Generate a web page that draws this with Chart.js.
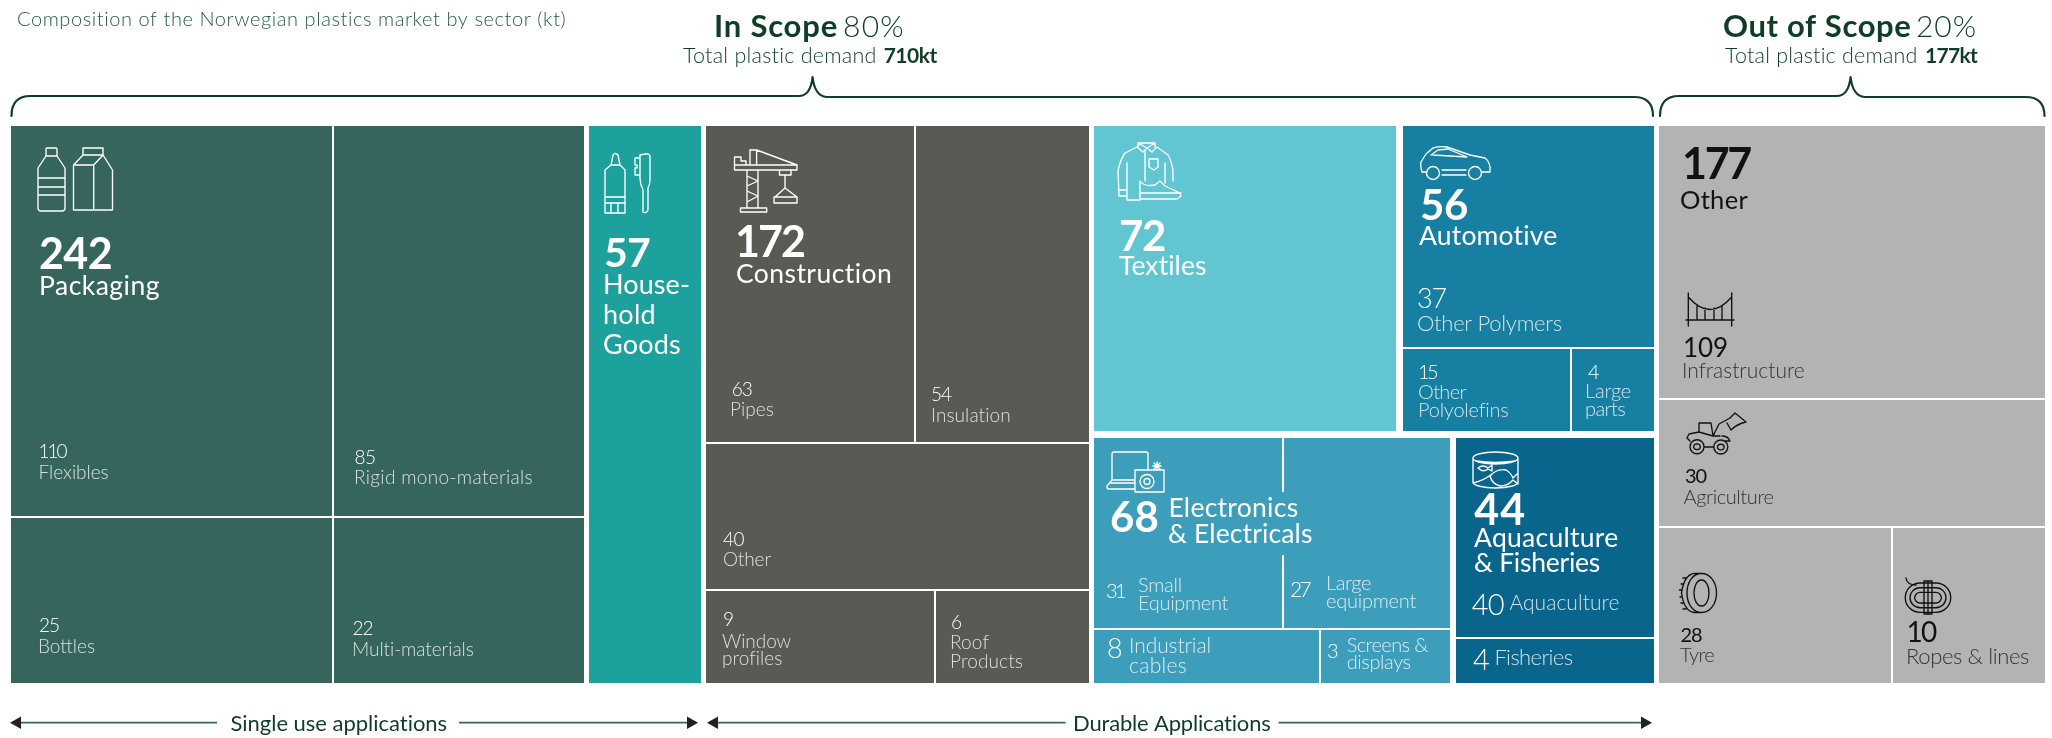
<!DOCTYPE html>
<html><head><meta charset="utf-8">
<style>html,body{margin:0;padding:0;background:#fff}canvas{display:block}</style>
<script src="https://cdn.jsdelivr.net/npm/chart.js@4"></script>
</head><body><canvas id="c" width="2052" height="738"></canvas>
<script>
// ---- data (kt) ----
const sectorNames=["Packaging","Household Goods","Construction","Textiles","Automotive","Electronics & Electricals","Aquaculture & Fisheries","Other"];
const sectorValues=[242,57,172,72,56,68,44,177];
const packagingParts=["Flexibles","Rigid mono-materials","Bottles","Multi-materials"];
const packagingValues=[110,85,25,22];
const constructionParts=["Pipes","Insulation","Other","Window profiles","Roof Products"];
const constructionValues=[63,54,40,9,6];
const automotiveParts=["Other Polymers","Other Polyolefins","Large parts"];
const automotiveValues=[37,15,4];
const electronicsParts=["Small Equipment","Large equipment","Industrial cables","Screens & displays"];
const electronicsValues=[31,27,8,3];
const aquacultureParts=["Aquaculture","Fisheries"];
const aquacultureValues=[40,4];
const otherParts=["Infrastructure","Agriculture","Tyre","Ropes & lines"];
const otherValues=[109,30,28,10];

// ---- treemap layout: relative spans of each split, measured on the picture ----
const COL={pack:'#36655E',house:'#1DA19C',cons:'#5A5A54',text:'#61C5D2',auto:'#177FA1',elec:'#3D9EBC',aqua:'#0A658C',out:'#B3B3B3'};
const leaf=(span,label,value,color)=>({span,label,value,color});
const H=(span,gap,kids)=>({span,gap,dir:'h',kids});
const V=(span,gap,kids)=>({span,gap,dir:'v',kids});
const tree=H(1,5.4,[
 H(573,2,[
  V(322,2,[leaf(390,packagingParts[0],packagingValues[0],COL.pack),leaf(165,packagingParts[2],packagingValues[2],COL.pack)]),
  V(250,2,[leaf(390,packagingParts[1],packagingValues[1],COL.pack),leaf(165,packagingParts[3],packagingValues[3],COL.pack)])]),
 leaf(111.6,sectorNames[1],sectorValues[1],COL.house),
 V(382.6,2,[
  H(316.5,2,[leaf(208,constructionParts[0],constructionValues[0],COL.cons),leaf(173,constructionParts[1],constructionValues[1],COL.cons)]),
  leaf(145,constructionParts[2],constructionValues[2],COL.cons),
  H(92,2,[leaf(228,constructionParts[3],constructionValues[3],COL.cons),leaf(153,constructionParts[4],constructionValues[4],COL.cons)])]),
 V(559.8,6.5,[
  H(305.5,6.5,[
   leaf(302,sectorNames[3],sectorValues[3],COL.text),
   V(251,2,[leaf(221.5,automotiveParts[0],automotiveValues[0],COL.auto),
    H(82,2,[leaf(167.4,automotiveParts[1],automotiveValues[1],COL.auto),leaf(81.5,automotiveParts[2],automotiveValues[2],COL.auto)])])]),
  H(245.5,5.4,[
   V(356,2,[H(190.5,2,[leaf(188,electronicsParts[0],electronicsValues[0],COL.elec),leaf(166,electronicsParts[1],electronicsValues[1],COL.elec)]),
    H(53,2,[leaf(225,electronicsParts[2],electronicsValues[2],COL.elec),leaf(129,electronicsParts[3],electronicsValues[3],COL.elec)])]),
   V(198,2,[leaf(199.5,aquacultureParts[0],aquacultureValues[0],COL.aqua),leaf(44.5,aquacultureParts[1],aquacultureValues[1],COL.aqua)])])]),
 V(385.9,2,[
  leaf(272.5,otherParts[0],otherValues[0],COL.out),
  leaf(126,otherParts[1],otherValues[1],COL.out),
  H(155,2,[leaf(231.5,otherParts[2],otherValues[2],COL.out),leaf(152,otherParts[3],otherValues[3],COL.out)])])
]);
const rects=[];
(function layout(n,x0,y0,x1,y1){
 if(!n.kids){rects.push({label:n.label,value:n.value,color:n.color,x0:Math.round(x0),x1:Math.round(x1),y0:Math.round(y0),y1:Math.round(y1)});return;}
 const horiz=n.dir==='h',len=(horiz?x1-x0:y1-y0)-n.gap*(n.kids.length-1);
 const sum=n.kids.reduce((a,k)=>a+k.span,0);let p=horiz?x0:y0;
 n.kids.forEach(k=>{const s=len*k.span/sum;
  horiz?layout(k,p,y0,p+s,y1):layout(k,x0,p,x1,p+s);p+=s+n.gap;});
})(tree,10.5,125.5,2045,683);

// ---- text ----
const W='#ffffff',SOFT='rgba(255,255,255,.8)',G='#0F3D26',D='#111111',DS='#333333';
const F='Lato, "Noto Sans", sans-serif';
const texts=[
 ["Composition of the Norwegian plastics market by sector (kt)",17,26,20,300,'#2A5A4C',550],
 ["In Scope",714,37,31,700,G,124],["80%",843,37,30,300,G,62],
 ["Total plastic demand",683,62.7,21.5,300,G,194],["710kt",883.7,62.7,21,700,G,53],
 ["Out of Scope",1723,37,31,700,G,188.5],["20%",1916,37,30,300,G,61],
 ["Total plastic demand",1725,62.7,21.5,300,G,193],["177kt",1925,62.7,21,700,G,52],
 ["Single use applications",230.5,730.7,22,400,G,217],
 ["Durable Applications",1073,730.7,22,400,G,198],
 // packaging
 [sectorValues[0],39,269,43,700,W,73],[sectorNames[0],39,294.7,26.5,400,W,121],
 [packagingValues[0],38.6,458,19,300,W,27],[packagingParts[0],38.6,479,19,300,SOFT,70],
 [packagingValues[1],354.5,463.7,19,300,W,21],[packagingParts[1],354,484,19,300,SOFT,179],
 [packagingValues[2],39,632,19,300,W,20],[packagingParts[2],38,653.3,19,300,SOFT,57],
 [packagingValues[3],352.6,635,19,300,W,20],[packagingParts[3],352,656,19,300,SOFT,122],
 // household
 [sectorValues[1],604,266.7,41,700,W,46],["House-",603,294,27,400,W,87],["hold",603,324,27,400,W,53],["Goods",603,354,27,400,W,78],
 // construction
 [sectorValues[2],735,257,43,700,W,69],[sectorNames[2],736,282.7,26.5,400,W,156.6],
 [constructionValues[0],731.7,395.7,19,300,W,20],[constructionParts[0],730,416,19,300,SOFT,44],
 [constructionValues[1],931,400.7,19,300,W,20],[constructionParts[1],931,421.7,19,300,SOFT,80],
 [constructionValues[2],723,546,19,300,W,21],[constructionParts[2],723,566,19,300,SOFT,48],
 [constructionValues[3],723,626,19,300,W],["Window",722,648,19,300,SOFT,69],["profiles",722,665,19,300,SOFT,60],
 [constructionValues[4],951,628.7,19,300,W],["Roof",950,649.3,19,300,SOFT,39],["Products",950,668.3,19,300,SOFT,73],
 // textiles
 [sectorValues[3],1119,250.7,42,700,W,46],[sectorNames[3],1119,275,26.5,400,W,88],
 // automotive
 [sectorValues[4],1420,220,42,700,W,48],[sectorNames[4],1419,245.3,26.5,400,W,139],
 [automotiveValues[0],1417,308,27,300,W,29],[automotiveParts[0],1417,330.7,22,300,SOFT,144.7],
 [automotiveValues[1],1418,379,20,300,W,18],["Other",1418,399.3,20,300,SOFT,48],["Polyolefins",1418,417,20,300,SOFT,90],
 [automotiveValues[2],1588,379,20,300,W],["Large",1585,398,20,300,SOFT,46],["parts",1585,416,20,300,SOFT,40],
 // electronics
 [sectorValues[5],1110,532,42,700,W,49],["Electronics",1168.4,517,26.5,400,W,130],["& Electricals",1168,543,26.5,400,W,144.6],
 [electronicsValues[0],1106,598.3,20,300,W,18],["Small",1138,591.7,20,300,SOFT,44],["Equipment",1138,610,20,300,SOFT,90],
 [electronicsValues[1],1290,596.7,21,300,W,19],["Large",1326,590,20,300,SOFT,45],["equipment",1326,608,20,300,SOFT,90],
 [electronicsValues[2],1107,658,27,300,W],["Industrial",1129,653.3,21,300,SOFT,82],["cables",1129,672.7,21,300,SOFT,58],
 [electronicsValues[3],1327,658,20,300,W],["Screens &",1346.7,652,20,300,SOFT,81],["displays",1346.7,669.3,20,300,SOFT,64],
 // aquaculture
 [sectorValues[6],1474.3,525,43,700,W,52],["Aquaculture",1474,546.7,26.5,400,W,144.5],["& Fisheries",1474,572,26.5,400,W,126],
 [aquacultureValues[0],1471.7,615,29,300,W,32],[aquacultureParts[0],1509.4,610,21,300,SOFT,110],
 [aquacultureValues[1],1473,670,29,300,W],[aquacultureParts[1],1494.4,664.7,22,300,SOFT,78],
 // other
 [sectorValues[7],1682,178.7,43,700,D,68],[sectorNames[7],1680,209,25.5,400,D,68],
 [otherValues[0],1683,357.3,26,400,D,45],[otherParts[0],1682,378.3,21,300,DS,122.7],
 [otherValues[1],1685,483.3,20,400,D,21],[otherParts[1],1683.5,504,20,300,DS,90],
 [otherValues[2],1680.5,641.7,20,400,D,21],[otherParts[2],1680,662.3,20,300,DS,34],
 [otherValues[3],1906.4,641.7,28,400,D,29],[otherParts[3],1906,664.3,22,300,DS,123]
];

// ---- icons (outline decorations) ----
const icons=[
 [W,"M46 156V149Q46 148 47 148H56Q57 148 57 149V156ZM46 156L38 168V208Q38 211 41 211H62Q65 211 65 208V168L57 156M38 178H65M38 187H65M38 195H65"],
 [W,"M83 155V148H103V155M73.5 165L83 155H103L112.5 170V210H73.5ZM73.5 165H93.7L103 155M93.7 165V210"],
 [W,"M611 165L613 155Q615 152 618 155L620 165ZM611 165L605 170V213H625V170L620 165M605 197H625M605 203H625M611 203V213M618 203V213"],
 [W,"M645 154Q649 153 650 156V180Q650 184 648 188V210Q646 214 643 212V190Q640 184 640 178V155ZM640 158H635V165H637V168H635V175H640"],
 [W,"M740.5 208H766.7V212H740.5ZM747 208V170M758 208V170M747 176L758 181M758 181L747 186M747 191L758 196M758 196L747 202M734.5 165H797V170H734.5ZM734.5 165V157H741V161H746V165M750 165V150H756.6L797 165M756.6 150V165M779.5 170H791V175H779.5ZM785 175V188M785 188L775 197H797ZM774 197H797V203H774Z"],
 [W,"M1138 147V143H1155V147M1137 147L1143 152L1147 148L1152 152L1157 147M1147 148L1138 143M1147 148L1155 143M1137 147L1125 153Q1120 160 1118 171L1119 196H1127V163M1119 190H1127M1127 190V200H1140M1157 147L1168 155Q1172 162 1173 171V181M1165 163V183M1145 151V181M1149 159H1158V167L1154 170L1149 167ZM1140 181V193M1140 181Q1144 187 1155 185L1160 181L1165 186L1180 193L1181 196L1177 199H1140V193H1181"],
 [W,"M1427 172H1422Q1420 165 1421 162Q1424 157 1426 154L1433 148Q1440 146 1447 147L1470 155L1485 158Q1489 161 1490 167V172H1482M1431 155L1438 150L1448 149L1467 157L1433 155M1442 170H1466M1442 175H1466M1439.5 173A6.5 6.5 0 1 1 1426.5 173A6.5 6.5 0 1 1 1439.5 173M1481.5 173A6.5 6.5 0 1 1 1468.5 173A6.5 6.5 0 1 1 1481.5 173"],
 [W,"M1112 480V454Q1112 452 1114 452H1146Q1148 452 1148 454V470M1112 480H1135M1107 486L1112 480M1107 486V488Q1107 489 1109 489H1135M1110 483H1135M1135 470H1164V492H1135ZM1147 474.5A7 7 0 1 1 1147 488.5A7 7 0 1 1 1147 474.5M1147 478.5A3 3 0 1 1 1147 484.5A3 3 0 1 1 1147 478.5M1157 469V462M1153 466L1161 466M1154 463L1160 469M1160 463L1154 469"],
 [W,"M1473 458A22.5 6 0 1 1 1518 458A22.5 6 0 1 1 1473 458M1473 458V482A22.5 6 0 0 0 1518 482V458M1473 483Q1485 480 1492 474M1476 461Q1495 464 1515 461M1490 476Q1497 468 1506 470Q1511 473 1513 478L1518 473V484L1513 480Q1508 486 1500 486Q1492 484 1490 476ZM1478 468Q1483 464 1488 468L1492 465V471L1488 469Q1483 473 1478 468Z"],
 [D,"M1688.3 293V326M1731.7 293V326M1686 320H1734M1688.3 297Q1710 322 1731.7 297M1697 306V320M1705 308V320M1714 308V320M1722 306V320"],
 [D,"M1697 439.7A7 7 0 1 1 1697 453.7A7 7 0 1 1 1697 439.7M1697 444A2.8 2.8 0 1 1 1697 449.5A2.8 2.8 0 1 1 1697 444M1720.8 440A7 7 0 1 1 1720.8 454A7 7 0 1 1 1720.8 440M1720.8 444.3A2.8 2.8 0 1 1 1720.8 449.8A2.8 2.8 0 1 1 1720.8 444.3M1704 447H1714M1690 441L1687 438L1689 434L1699 432V423H1711L1713 436H1720M1699 432L1713 436M1713 436L1719 424L1730 418M1725 441H1730Q1728 436 1722 436M1730 418L1735 413L1746 422Q1737 424 1731 430L1727 423"],
 [D,"M1701.5 573.5C1710 573.5 1716.5 582 1716.5 593C1716.5 604 1710 612.5 1701.5 612.5C1693 612.5 1687 604 1687 593C1687 582 1693 573.5 1701.5 573.5ZM1701.5 580C1706 580 1709 586 1709 593C1709 600 1706 606 1701.5 606C1697 606 1694 600 1694 593C1694 586 1697 580 1701.5 580ZM1701.5 573.5H1694Q1684 575 1681.5 593Q1684 611 1694 612.5H1701.5M1686 578H1683M1683 584H1681M1682 590H1679.5M1682 597H1680M1683 603H1681M1686 609H1683"],
 [D,"M1920 583H1936A14.7 14.7 0 0 1 1936 612.4H1920A14.7 14.7 0 0 1 1920 583ZM1920 587.7H1936A10 10 0 0 1 1936 607.7H1920A10 10 0 0 1 1920 587.7ZM1920 592.4H1936A5.3 5.3 0 0 1 1936 603H1920A5.3 5.3 0 0 1 1920 592.4ZM1924 581H1932V614H1924ZM1928 581V614M1906 578Q1907 585 1916 585"]
];
// ---- decorations: braces and arrows ----
const brace=(x0,tip,x1)=>`M${x0} 116Q${x0} 96 ${x0+19} 96H${tip-14}Q${tip-2} 96 ${tip} 77Q${tip+2} 96 ${tip+14} 97H${x1-19}Q${x1} 97 ${x1} 116`;
const braces=[brace(11.5,812.6,1653),brace(1660,1850.6,2044.5)];
const arrows=[[10,217,459,698],[707,1065.6,1278.6,1652]];

const painter={
 id:'painter',
 afterDatasetsDraw(chart){
  const c=chart.ctx,sx=chart.scales.x,sy=chart.scales.y;
  const px=v=>sx.getPixelForValue(v),py=v=>sy.getPixelForValue(v);
  c.save();
  // the rule between small and large equipment stops behind the sector title
  const rs=rects.find(r=>r.label===electronicsParts[0]),rl=rects.find(r=>r.label===electronicsParts[1]);
  c.fillStyle=COL.elec;c.fillRect(px(rs.x1)-1,py(492),px(rl.x0)-px(rs.x1)+2,py(555)-py(492));
  c.lineJoin='round';c.lineCap='round';
  braces.forEach(b=>{c.strokeStyle=G;c.lineWidth=2.2;c.stroke(new Path2D(b));});
  arrows.forEach(a=>{
   c.strokeStyle='#36655E';c.lineWidth=1.8;c.lineCap='butt';
   c.beginPath();c.moveTo(a[0]+8,722.7);c.lineTo(a[1],722.7);c.moveTo(a[2],722.7);c.lineTo(a[3]-8,722.7);c.stroke();
   c.fillStyle='#222';
   c.beginPath();c.moveTo(a[0],722.7);c.lineTo(a[0]+11,716.5);c.lineTo(a[0]+11,729);c.closePath();c.fill();
   c.beginPath();c.moveTo(a[3],722.7);c.lineTo(a[3]-11,716.5);c.lineTo(a[3]-11,729);c.closePath();c.fill();
  });
  c.lineCap='round';
  icons.forEach(i=>{c.strokeStyle=i[0];c.lineWidth=1.35;c.stroke(new Path2D(i[1]));});
  c.textBaseline='alphabetic';c.textAlign='left';
  texts.forEach(t=>{
   const s=String(t[0]);
   c.font=`${t[4]} ${t[3]}px ${F}`;c.fillStyle=t[5];c.letterSpacing='0px';
   if(t[6]){const m=c.measureText(s).width;c.letterSpacing=((t[6]-m)/s.length).toFixed(3)+'px';}
   c.fillText(s,px(t[1]),py(t[2]));
  });
  c.letterSpacing='0px';
  c.restore();
 }
};

new Chart(document.getElementById('c'),{
 type:'bar',
 data:{datasets:rects.map(r=>({
  label:r.label,
  backgroundColor:r.color,borderWidth:0,inflateAmount:0,grouped:false,
  barThickness:r.x1-r.x0,
  data:[{x:(r.x0+r.x1)/2,y:[r.y0,r.y1],kt:r.value}]
 }))},
 options:{
  responsive:false,animation:false,
  layout:{padding:0},
  plugins:{legend:{display:false},title:{display:false},tooltip:{enabled:false}},
  scales:{
   x:{type:'linear',min:0,max:2052,display:false,offset:false,grid:{display:false}},
   y:{type:'linear',min:0,max:738,reverse:true,display:false,grid:{display:false}}
  }
 },
 plugins:[painter]
});
</script></body></html>
